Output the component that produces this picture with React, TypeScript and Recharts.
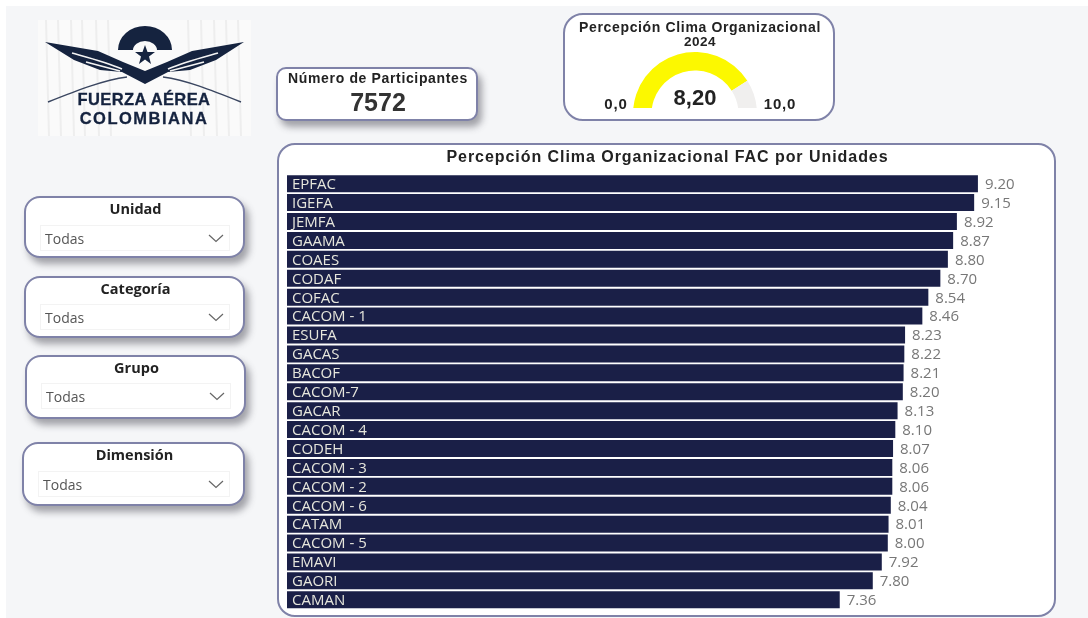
import React from "react";
import { BarChart, Bar, XAxis, YAxis, LabelList, PieChart, Pie, Cell } from "recharts";

const units = ["EPFAC","IGEFA","JEMFA","GAAMA","COAES","CODAF","COFAC","CACOM - 1","ESUFA","GACAS","BACOF","CACOM-7","GACAR","CACOM - 4","CODEH","CACOM - 3","CACOM - 2","CACOM - 6","CATAM","CACOM - 5","EMAVI","GAORI","CAMAN"];
const scores = [9.2,9.15,8.92,8.87,8.8,8.7,8.54,8.46,8.23,8.22,8.21,8.2,8.13,8.1,8.07,8.06,8.06,8.04,8.01,8.0,7.92,7.8,7.36];
const gaugeValue = 8.2;
const gaugeMax = 10;
const participants = "7572";
const filters = ["Unidad", "Categoría", "Grupo", "Dimensión"];
const filterValue = "Todas";

const rows = units.map((unit, i) => ({ unit, score: scores[i] }));
const gaugeRows = [{ name: "valor", value: gaugeValue }, { name: "resto", value: gaugeMax - gaugeValue }];
const ARIAL = "'Liberation Sans', Arial, sans-serif";
const UI = "'Open Sans', sans-serif";
const BORDER = "#7f82a8";
const SHADOW = "4px 6px 7px rgba(60,60,70,0.45)";

const filterBoxes = [
  { left: 24, top: 196, width: 221, height: 62, innerLeft: 16, innerTop: 29 },
  { left: 24, top: 276, width: 221, height: 62, innerLeft: 16, innerTop: 28 },
  { left: 25, top: 355, width: 221, height: 64, innerLeft: 16, innerTop: 28 },
  { left: 22, top: 442, width: 223, height: 64, innerLeft: 16, innerTop: 29 },
];

function card(left: number, top: number, width: number, height: number, radius: number, shadow = true): React.CSSProperties {
  return {
    position: "absolute", left, top, width, height, boxSizing: "border-box", background: "#fff",
    border: `2px solid ${BORDER}`, borderRadius: radius, boxShadow: shadow ? SHADOW : "none",
  };
}

function abs(left: number, top: number, width: number, text: string, size: number, weight: number, color = "#222", font = ARIAL, spacing = 0) {
  return (
    <div style={{ position: "absolute", left, top, width, textAlign: "center", fontFamily: font, fontSize: size, fontWeight: weight, color, lineHeight: 1, whiteSpace: "nowrap", letterSpacing: spacing }}>{text}</div>
  );
}

function Logo() {
  const ink = "#15233f";
  const stripes = [8, 20, 33, 44, 58, 70, 150, 163, 176, 188, 200];
  return (
    <svg style={{ position: "absolute", left: 38, top: 20 }} width={213} height={116} viewBox="0 0 213 116">
      <rect width={213} height={116} fill="#fafafa" />
      {stripes.map((x) => <line key={x} x1={x} y1={0} x2={x + 3} y2={116} stroke="#eeeeee" strokeWidth={2} />)}
      <path d="M80 30 A27 24 0 0 1 134 30 L119 30 A12 9 0 0 0 95 30 Z" fill={ink} />
      <polygon points="107,25 109.5,32 117,32 111,36.5 113,44 107,39.5 101,44 103,36.5 97,32 104.5,32" fill={ink} />
      <path d="M7 22 L60 31 L85 42 L107 51 L129 42 L154 31 L206 22 L178 40 L152 50 L130 52 L107 64 L84 52 L62 50 L36 40 Z" fill={ink} />
      <path d="M34 33 C52 38 68 42 84 49 M180 33 C162 38 146 42 130 49 M48 42 L82 51 M166 42 L132 51" stroke="#f4f4f4" strokeWidth={1.6} fill="none" />
      <path d="M10 82 C40 70 66 60 89 57 M203 82 C173 70 148 60 125 57" stroke="#3a4660" strokeWidth={1.4} fill="none" />
      <text x={106} y={85} textAnchor="middle" fontFamily={ARIAL} fontWeight={700} fontSize={16.5} letterSpacing={0.4} stroke={ink} strokeWidth={0.3} fill={ink}>FUERZA AÉREA</text>
      <text x={106} y={104} textAnchor="middle" fontFamily={ARIAL} fontWeight={700} fontSize={16.5} letterSpacing={1.5} stroke={ink} strokeWidth={0.3} fill={ink}>COLOMBIANA</text>
    </svg>
  );
}

function Chevron({ left, top }: { left: number; top: number }) {
  return (
    <svg style={{ position: "absolute", left, top }} width={16} height={9} viewBox="0 0 16 9">
      <path d="M1 1 L8 7.5 L15 1" fill="none" stroke="#666" strokeWidth={1.2} />
    </svg>
  );
}

export default function App() {
  return (
    <div style={{ position: "absolute", left: 0, top: 0, width: 1088, height: 618, overflow: "hidden", background: "#fff", filter: "blur(0.35px)" }}>
      <div style={{ position: "absolute", left: 6, top: 6, width: 1082, height: 612, background: "#f5f6f8" }} />
      <Logo />

      <div style={card(276, 67, 202, 54, 10)} />
      {abs(276, 71, 204, "Número de Participantes", 14, 700, "#222", ARIAL, 0.65)}
      {abs(276, 90, 204, participants, 25, 700, "#333")}

      <div style={card(563, 13, 272, 108, 20, false)} />
      {abs(563, 20, 274, "Percepción Clima Organizacional", 14, 700, "#222", ARIAL, 0.65)}
      {abs(563, 35, 274, "2024", 13.5, 700, "#222", ARIAL, 0.5)}
      <div style={{ position: "absolute", left: 625, top: 48 }}>
        <PieChart width={140} height={60} margin={{ top: 0, right: 0, bottom: 0, left: 0 }}>
          <Pie data={gaugeRows} dataKey="value" cx={70} cy={66} startAngle={180} endAngle={0} innerRadius={43.5} outerRadius={62} stroke="none" isAnimationActive={false}>
            <Cell fill="#fcf800" />
            <Cell fill="#f0efee" />
          </Pie>
        </PieChart>
      </div>
      {abs(653, 87, 84, "8,20", 22, 700)}
      {abs(592, 96, 48, "0,0", 15, 700, "#222", ARIAL, 0.8)}
      {abs(756, 96, 48, "10,0", 15, 700, "#222", ARIAL, 0.8)}

      {filterBoxes.map((b, i) => (
        <div key={filters[i]} style={card(b.left, b.top, b.width, b.height, 16)}>
          {abs(0, 4, b.width - 2, filters[i], 14.5, 700, "#222", UI)}
          <div style={{ position: "absolute", left: b.innerLeft - 2, top: b.innerTop - 2, width: b.width - 31, height: 26, background: "#fff", border: "1px solid #f3f3f3", boxSizing: "border-box" }} />
          <div style={{ position: "absolute", left: b.innerLeft + 3, top: b.innerTop + 2, fontFamily: UI, fontSize: 14, color: "#555" }}>{filterValue}</div>
          <Chevron left={b.width - 39} top={b.innerTop + 7} />
        </div>
      ))}

      <div style={{ ...card(277, 143, 779, 474, 18, false) }} />
      {abs(277, 149, 781, "Percepción Clima Organizacional FAC por Unidades", 16, 700, "#222", ARIAL, 0.95)}
      <div style={{ position: "absolute", left: 287, top: 174 }}>
        <BarChart width={751} height={435} data={rows} layout="vertical" margin={{ top: 0, right: 0, bottom: 0, left: 0 }} barCategoryGap={1.2}>
          <XAxis type="number" dataKey="score" domain={[0, 10]} hide />
          <YAxis type="category" dataKey="unit" hide />
          <Bar dataKey="score" fill="#1a1f47" isAnimationActive={false}>
            <LabelList dataKey="unit" position="insideLeft" offset={5} fill="#e6e6dc" fontFamily={UI} fontSize={15} />
            <LabelList dataKey="score" position="right" offset={7} fill="#777" fontFamily={UI} fontSize={15} formatter={(v: number) => v.toFixed(2)} />
          </Bar>
        </BarChart>
      </div>
    </div>
  );
}
